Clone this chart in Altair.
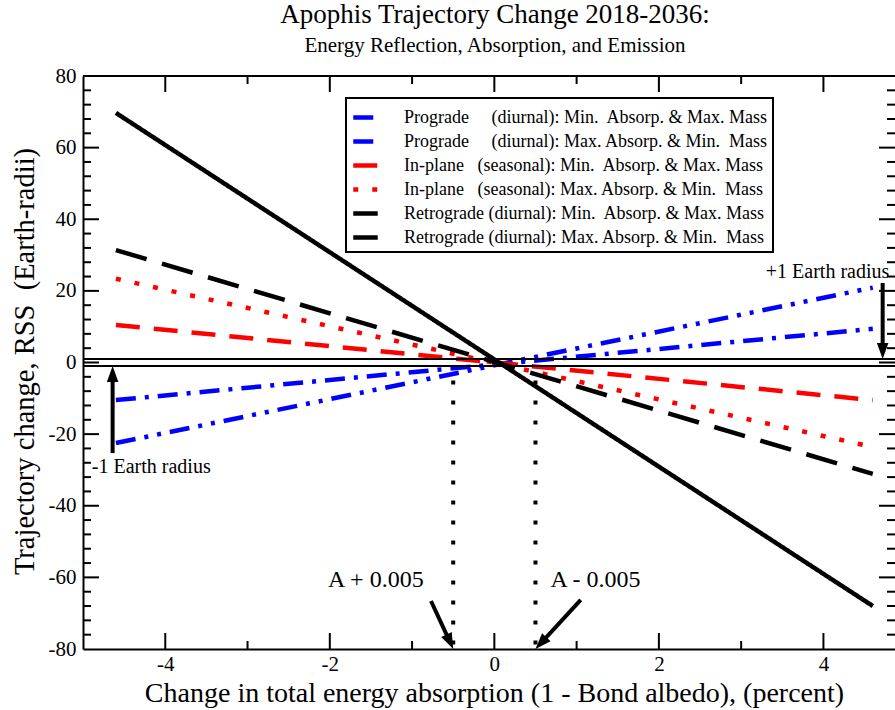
import math
import altair as alt
import pandas as pd

FONT = "Liberation Serif"

# ---------------- data ----------------
series = [
    "Prograde\u00a0\u00a0\u00a0\u00a0 (diurnal): Min.\u00a0 Absorp. & Max. Mass",
    "Prograde\u00a0\u00a0\u00a0\u00a0 (diurnal): Max. Absorp. & Min.\u00a0 Mass",
    "In-plane\u00a0\u00a0 (seasonal): Min.\u00a0 Absorp. & Max. Mass",
    "In-plane\u00a0\u00a0 (seasonal): Max. Absorp. & Min.\u00a0 Mass",
    "Retrograde (diurnal): Min.\u00a0 Absorp. & Max. Mass",
    "Retrograde (diurnal): Max. Absorp. & Min.\u00a0 Mass",
]
colors = ["#0000ff", "#0000ff", "#ff0000", "#ff0000", "#000000", "#000000"]
dashes = [[20, 9, 4, 9], [20, 9, 4, 9, 4, 9], [24, 14], [5, 14], [1, 0], [32, 16]]

x_ends = [-4.6, 4.6]
y_at_left = [-10.5, -22.5, 10.5, 23.4, 69.7, 31.4]
y_at_right = [9.4, 20.9, -10.5, -23.6, -68.0, -31.1]

x_major = [-4, -2, 0, 2, 4]
x_minor = [-3, -1, 1, 3]
y_major = [-60, -40, -20, 0, 20, 40, 60]
y_minor = [-76, -72, -68, -64, -56, -52, -48, -44, -36, -32, -28, -24, -16, -12, -8, -4,
           4, 8, 12, 16, 24, 28, 32, 36, 44, 48, 52, 56, 64, 68, 72, 76]
y_labels = [-80, -60, -40, -20, 0, 20, 40, 60, 80]

ref_y = [1, -1]
dotted_x = [-0.5, 0.5]
dotted_y = [-5, -80]

ann_text = ["A + 0.005", "A - 0.005", "+1 Earth radius", "-1 Earth radius"]
ann_x = [-1.44, 1.23, 4.05, -4.17]
ann_y = [-62.7, -62.7, 23.6, -30.9]
ann_size = [24, 24, 20, 20]

arrow_tail_x = [-0.77, 1.05, 4.72, -4.64]
arrow_tail_y = [-66.6, -66.3, 22.2, -25.3]
arrow_tip_x = [-0.5, 0.5, 4.72, -4.64]
arrow_tip_y = [-80, -80, 1, -1]

# ---------------- layout ----------------
W, H = 812, 573
XMIN, XMAX = -5.0, 4.87
YMIN, YMAX = -80, 80
PX = W / (XMAX - XMIN)
PY = H / (YMAX - YMIN)
MAJ, MIN = 16, 8

xs = alt.Scale(domain=[XMIN, XMAX], nice=False, zero=False)
ys = alt.Scale(domain=[YMIN, YMAX], nice=False, zero=False)

rows = []
for s, yl, yr in zip(series, y_at_left, y_at_right):
    rows.append({"series": s, "x": x_ends[0], "y": yl})
    rows.append({"series": s, "x": x_ends[1], "y": yr})
line_df = pd.DataFrame(rows)

leg = alt.Legend(
    title=None, orient="none", legendX=263, legendY=22,
    fillColor="white", strokeColor="black", padding=5,
    symbolType="stroke", symbolSize=600, symbolStrokeWidth=4.5,
    labelFont=FONT, labelFontSize=18, labelColor="black", labelLimit=0,
    labelOffset=24, rowPadding=0,
)

x_axis = alt.Axis(
    values=x_major, labelExpr="'' + datum.value", ticks=False, grid=False,
    domainColor="black", domainWidth=2, labelFont=FONT, labelFontSize=21,
    labelColor="black", labelPadding=4,
    title="Change in total energy absorption (1 - Bond albedo), (percent)",
    titleFont=FONT, titleFontSize=28, titleFontWeight="normal", titleColor="black",
    titleX=411, titleY=52, titleBaseline="alphabetic", titleAlign="center",
)
y_axis = alt.Axis(
    values=y_labels, labelExpr="'' + datum.value", ticks=False, grid=False,
    domainColor="black", domainWidth=2, labelFont=FONT, labelFontSize=21,
    labelColor="black", labelPadding=7,
    title="Trajectory change, RSS\u00a0 (Earth-radii)",
    titleFont=FONT, titleFontSize=28.5, titleFontWeight="normal", titleColor="black",
    titleX=-50, titleY=285, titleBaseline="alphabetic", titleAlign="center", titleAngle=270,
)


def X(field):
    return alt.X(field, type="quantitative", scale=xs, axis=x_axis)


def Y(field):
    return alt.Y(field, type="quantitative", scale=ys, axis=y_axis)


lines = alt.Chart(line_df).mark_line(strokeWidth=4.5, strokeCap="butt").encode(
    x=X("x"),
    y=Y("y"),
    color=alt.Color("series:N", scale=alt.Scale(domain=series, range=colors), legend=leg),
    strokeDash=alt.StrokeDash("series:N", scale=alt.Scale(domain=series, range=dashes), legend=leg),
    detail="series:N",
)

hlines = alt.Chart(pd.DataFrame({"y": ref_y})).mark_rule(color="black", strokeWidth=2).encode(
    y=Y("y")
)

dotted = alt.Chart(pd.DataFrame({"x": dotted_x, "y": [dotted_y[0]] * 2, "y2": [dotted_y[1]] * 2})).mark_rule(
    color="black", strokeWidth=4, strokeDash=[4, 16]
).encode(
    x=X("x"),
    y=Y("y"),
    y2="y2:Q",
)

# arrows
HEAD = 16
arows = []
for tx, ty, hx, hy in zip(arrow_tail_x, arrow_tail_y, arrow_tip_x, arrow_tip_y):
    dxp = (hx - tx) * PX
    dyp = -(hy - ty) * PY
    L = math.hypot(dxp, dyp)
    ux, uy = dxp / L, dyp / L
    back = HEAD * 0.8
    ex = hx - ux * back / PX
    ey = hy + uy * back / PY
    ang = math.degrees(math.atan2(ux, -uy)) % 360
    arows.append({"x": tx, "y": ty, "x2": ex, "y2": ey, "hx": hx, "hy": hy, "ang": ang})
arrow_df = pd.DataFrame(arows)

shafts = alt.Chart(arrow_df).mark_rule(color="black", strokeWidth=4).encode(
    x=X("x"), y=Y("y"),
    x2="x2:Q", y2="y2:Q",
)
heads = alt.Chart(arrow_df).mark_point(
    shape="M0,0L-0.36,1L0.36,1Z", filled=True, color="black", opacity=1, size=(2 * HEAD) ** 2, strokeWidth=0
).encode(
    x=X("hx"), y=Y("hy"),
    angle=alt.Angle("ang:Q", scale=None),
)

ann_df = pd.DataFrame({"t": ann_text, "x": ann_x, "y": ann_y, "s": ann_size})
ann = alt.Chart(ann_df).mark_text(font=FONT, color="black", baseline="alphabetic", align="center").encode(
    x=X("x"), y=Y("y"),
    text="t:N", size=alt.Size("s:Q", scale=None, legend=None),
)

# frame ticks (inward)
tick_layers = []
for vals, ln in [(x_major, MAJ), (x_minor, MIN)]:
    d = pd.DataFrame({"x": vals})
    tick_layers.append(alt.Chart(d).mark_rule(color="black", strokeWidth=2).encode(
        x=X("x"), y=alt.value(H), y2=alt.value(H - ln)))
    tick_layers.append(alt.Chart(d).mark_rule(color="black", strokeWidth=2).encode(
        x=X("x"), y=alt.value(0), y2=alt.value(ln)))
for vals, ln in [(y_major, MAJ), (y_minor, MIN)]:
    d = pd.DataFrame({"y": vals})
    tick_layers.append(alt.Chart(d).mark_rule(color="black", strokeWidth=2).encode(
        y=Y("y"), x=alt.value(0), x2=alt.value(ln)))
    tick_layers.append(alt.Chart(d).mark_rule(color="black", strokeWidth=2).encode(
        y=Y("y"), x=alt.value(W), x2=alt.value(W - ln)))

top_spine = alt.Chart(pd.DataFrame({"a": [0]})).mark_rule(color="black", strokeWidth=2).encode(
    x=alt.value(0), x2=alt.value(W), y=alt.value(0)
)

chart = alt.layer(
    lines, hlines, dotted, *tick_layers, top_spine, shafts, heads, ann
).properties(
    width=W, height=H,
    title=alt.TitleParams(
        text="Apophis Trajectory Change 2018-2036:",
        subtitle="Energy Reflection, Absorption, and Emission",
        font=FONT, fontSize=27, fontWeight="normal", color="black",
        subtitleFont=FONT, subtitleFontSize=21, subtitleColor="black",
        anchor="middle", frame="group", offset=8, subtitlePadding=6, dx=6,
    ),
    autosize=alt.AutoSizeParams(type="none"),
    padding={"left": 83, "top": 76, "right": 0, "bottom": 61},
    background="white",
).configure_view(stroke=None).configure_legend(strokeWidth=2)

chart.save("out.html", embed_options={"renderer": "svg", "actions": False})
